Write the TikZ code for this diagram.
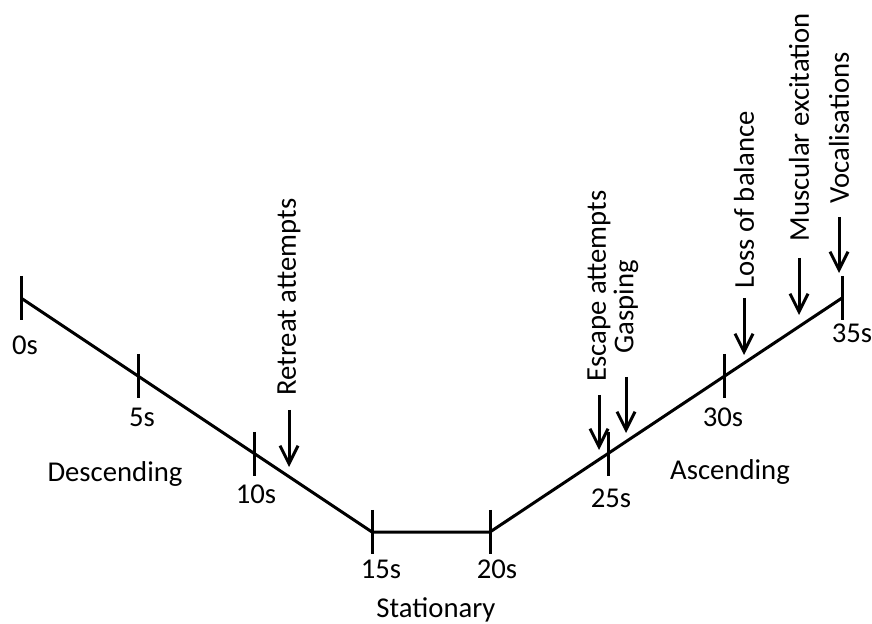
\documentclass[tikz,border=0pt]{standalone}
\usepackage{fontspec}
\setmainfont{Carlito}
\usepackage{tikz}
\usetikzlibrary{positioning,arrows.meta}

\begin{document}
\begin{tikzpicture}[x=0.5pt, y=-0.5pt, line width=1.5pt,
    every node/.style={font=\fontsize{14.35}{17}\selectfont},
    timetick/.style={line width=1.5pt},
    timelab/.style={anchor=base},
    event/.style={rotate=90, anchor=west, inner sep=0pt},
    evarrow/.style={-{Straight Barb[length=9pt,width=9pt]}, line width=1.5pt}]
    \useasboundingbox (0,0) rectangle (872,624);

    \coordinate (t0) at (21,298);
    \coordinate (t5) at (138.5,376);
    \coordinate (t10) at (254,454);
    \coordinate (t15) at (372,532);
    \coordinate (t20) at (490,532);
    \coordinate (t25) at (608,454);
    \coordinate (t30) at (724,376);
    \coordinate (t35) at (842,298);

    \draw (t0) -- (t15) -- (t20) -- (t35);

    \draw[timetick] ([yshift=11pt]t0) -- ([yshift=-11pt]t0);
    \draw[timetick] ([yshift=11pt]t5) -- ([yshift=-11pt]t5);
    \draw[timetick] ([yshift=11pt]t10) -- ([yshift=-11pt]t10);
    \draw[timetick] ([yshift=11pt]t15) -- ([yshift=-11pt]t15);
    \draw[timetick] ([yshift=11pt]t20) -- ([yshift=-11pt]t20);
    \draw[timetick] ([yshift=11pt]t25) -- ([yshift=-11pt]t25);
    \draw[timetick] ([yshift=11pt]t30) -- ([yshift=-11pt]t30);
    \draw[timetick] ([yshift=11pt]t35) -- ([yshift=-11pt]t35);

    \node[timelab] (l0) at (25,355) {0s};
    \node[timelab] (l5) at (142,427) {5s};
    \node[timelab] (l10) at (256,503) {10s};
    \node[timelab] (l15) at (381,578) {15s};
    \node[timelab] (l20) at (497,578) {20s};
    \node[timelab] (l25) at (611,508) {25s};
    \node[timelab] (l30) at (723,427) {30s};
    \node[timelab] (l35) at (852,343) {35s};

    \node[timelab] (desc) at (115,481) {Descending};
    \node[timelab] (stat) at (436,617) {Stationary};
    \node[timelab] (asc) at (730,480) {Ascending};

    \node[event] (retreat) at (289,397) {Retreat attempts};
    \coordinate (retreat-end) at (289,467);
    \draw[evarrow, shorten <=6.5pt] (retreat) -- (retreat-end);

    \node[event] (escape) at (599,383) {Escape attempts};
    \coordinate (escape-end) at (599,450);
    \draw[evarrow, shorten <=6pt] (escape) -- (escape-end);

    \node[event] (gasp) at (626,355) {Gasping};
    \coordinate (gasp-end) at (626,433);
    \draw[evarrow, shorten <=11pt] (gasp) -- (gasp-end);

    \node[event] (balance) at (744,290) {Loss of balance};
    \coordinate (balance-end) at (744,355);
    \draw[evarrow, shorten <=4pt] (balance) -- (balance-end);

    \node[event] (muscle) at (799,243) {Muscular excitation};
    \coordinate (muscle-end) at (799,315);
    \draw[evarrow, shorten <=7.5pt] (muscle) -- (muscle-end);

    \node[event] (vocal) at (839,205) {Vocalisations};
    \coordinate (vocal-end) at (839,273);
    \draw[evarrow, shorten <=6pt] (vocal) -- (vocal-end);
\end{tikzpicture}
\end{document}
